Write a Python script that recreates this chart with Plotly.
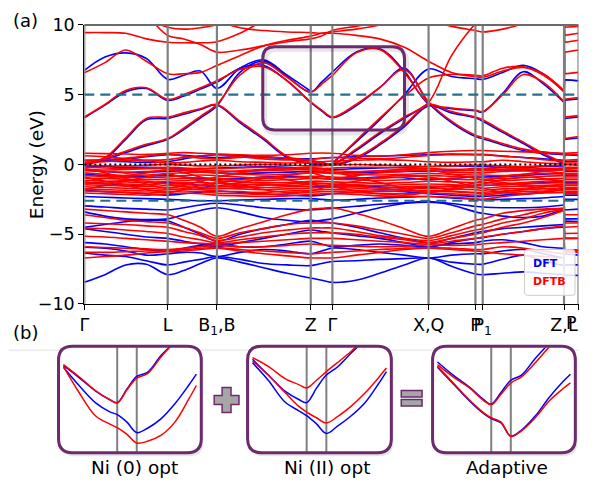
import plotly.graph_objects as go

# ---------------- data ----------------
K = [0, 21, 42, 63, 84.7, 101, 118, 134.7, 158, 182, 206, 230, 241, 252, 276, 300, 325,
     349.7, 373, 397.3, 404.7, 425, 446, 466, 487.3, 488, 502]
TICK_K = [0, 84.7, 134.7, 230, 252, 349.7, 397.3, 404.7, 487.3, 502]
TICK_TEXT = ["Γ", "L", "B<sub>1</sub>,B", "Z", "Γ", "X,Q", "P", "P<sub>1</sub>", "Z,L", ""]
END_LABEL = "P"
Y_TICKS = [-10, -5, 0, 5, 10]
DASH_LEVELS = [5.0, -2.6]
FERMI = 0.0

# DFTB (red) bands
R_UP1 = [9.45, 9.45, 9.4, 9.0, 8.76, 8.72, 8.72, 8.8, 9.4, 10.3, 11, 11, 11, 11, 11, 11, 11, 11, 11, 11, 11, 11, 11, 11, 11, 8.76, 8.9]
R_UP2 = [11, 11, 10.9, 10.4, 9.84, 9.7, 9.8, 10.0, 10.3, 10.6, 10.9, 11, 11, 11, 11, 11, 11, 11, 10.8, 10.3, 10.2, 10.4, 10.8, 11, 11, 9.84, 9.9]
R_UP3 = [11, 11, 11, 10.6, 9.25, 9.0, 8.6, 8.05, 8.2, 8.5, 8.8, 9.0, 9.2, 9.6, 9.9, 10.2, 10.4, 10.3, 9.9, 9.6, 9.5, 9.7, 10.1, 10.6, 11, 9.25, 9.4]
R_UP4 = [11, 11, 11, 11, 11, 11, 10.8, 10.3, 9.8, 9.6, 9.5, 9.45, 9.4, 9.4, 9.25, 9.0, 8.4, 7.4, 6.6, 6.3, 6.25, 6.7, 6.95, 6.5, 5.3, 8.05, 8.2]
R_CB1 = [0.05, 0.45, 0.95, 1.45, 1.86, 2.6, 3.45, 4.3, 6.4, 7.3, 6.25, 5.19, 5.75, 6.38, 8.0, 8.25, 6.6, 4.4, 4.05, 3.9, 3.8, 5.0, 6.45, 5.9, 4.5, 1.86, 2.0]
R_CB2 = [3.4, 4.3, 5.3, 5.5, 4.67, 5.0, 5.5, 6.0, 6.8, 7.0, 6.0, 4.48, 3.9, 3.4, 4.3, 5.5, 6.8, 4.5, 3.1, 2.1, 1.95, 1.5, 1.1, 0.9, 0.75, 4.67, 4.8]
R_CB3 = [0.05, 0.5, 1.9, 3.3, 3.4, 3.7, 4.0, 4.3, 3.1, 1.9, 0.6, 0.1, 0.05, 0.0, 1.1, 2.3, 3.4, 4.45, 7.8, 10.1, 10.6, 11, 11, 11, 11, 3.4, 3.5]
R_CB4 = [6.57, 7.3, 8.2, 7.4, 6.5, 6.5, 6.6, 7.1, 7.8, 8.5, 8.9, 9.2, 9.4, 9.5, 9.7, 10.0, 10.5, 11, 11, 11, 11, 11, 11, 11, 11, 6.5, 6.6]
R_CB6 = [0.3, 0.35, 0.45, 0.6, 0.75, 0.6, 0.45, 0.4, 0.5, 0.55, 0.45, 0.3, 0.15, 0.0, 0.5, 1.5, 2.8, 4.3, 3.8, 3.4, 3.2, 2.4, 1.6, 0.8, 0.1, 0.75, 0.7]
R_X = [None] * 13 + [0.05, 1.7, 3.3, 4.9, 6.2, 6.45, 6.4, 6.35, 6.9, 7.0, 6.4, 5.25] + [None, None]
R_N1 = [0.8, 0.78, 0.75, 0.72, 0.8, 0.85, 0.8, 0.75, 0.7, 0.65, 0.7, 0.8, 0.82, 0.8, 0.65, 0.6, 0.7, 0.85, 0.95, 1.0, 1.0, 0.95, 0.9, 0.85, 0.8, 0.8, 0.85]
R_N2 = [0.62, 0.55, 0.42, 0.32, 0.35, 0.5, 0.62, 0.7, 0.55, 0.4, 0.32, 0.35, 0.45, 0.5, 0.45, 0.4, 0.5, 0.65, 0.7, 0.72, 0.72, 0.6, 0.5, 0.35, 0.25, 0.3, 0.35]
R_N3 = [0.15, 0.2, 0.28, 0.25, 0.1, 0.15, 0.25, 0.3, 0.2, 0.15, 0.1, 0.15, 0.2, 0.25, 0.3, 0.35, 0.3, 0.2, 0.15, 0.2, 0.2, 0.3, 0.2, 0.1, 0.05, 0.1, 0.1]
V1 = [-0.05, -0.1, -0.1, -0.05, 0.0, -0.05, -0.1, -0.1, -0.05, 0.0, -0.05, -0.1, -0.1, -0.05, 0.0, -0.05, -0.1, -0.15, -0.1, -0.05, -0.05, -0.1, -0.15, -0.1, -0.05, 0.0, -0.05]
V2 = [-0.2, -0.25, -0.3, -0.25, -0.2, -0.25, -0.3, -0.3, -0.25, -0.2, -0.25, -0.3, -0.3, -0.25, -0.2, -0.2, -0.25, -0.3, -0.35, -0.3, -0.3, -0.25, -0.3, -0.35, -0.3, -0.2, -0.2]
V3 = [-0.45, -0.5, -0.55, -0.5, -0.4, -0.35, -0.4, -0.45, -0.5, -0.45, -0.4, -0.35, -0.4, -0.45, -0.5, -0.45, -0.4, -0.45, -0.55, -0.6, -0.6, -0.5, -0.45, -0.5, -0.6, -0.4, -0.45]
V4 = [-0.6, -0.7, -0.8, -0.75, -0.65, -0.6, -0.55, -0.6, -0.7, -0.75, -0.7, -0.6, -0.6, -0.65, -0.7, -0.75, -0.7, -0.65, -0.7, -0.75, -0.75, -0.8, -0.7, -0.65, -0.7, -0.65, -0.65]
V5 = [-0.8, -0.85, -0.9, -0.95, -0.9, -0.8, -0.75, -0.8, -0.9, -1.0, -0.95, -0.85, -0.85, -0.9, -0.95, -1.0, -0.9, -0.8, -0.85, -0.9, -0.95, -1.0, -0.95, -0.85, -0.8, -0.9, -0.9]
V6 = [-1.0, -1.0, -1.05, -1.1, -1.05, -1.0, -0.95, -1.0, -1.1, -1.15, -1.1, -1.0, -1.0, -1.05, -1.1, -1.15, -1.1, -1.0, -1.05, -1.1, -1.1, -1.15, -1.1, -1.05, -1.0, -1.05, -1.05]
V7 = [-1.15, -1.2, -1.25, -1.3, -1.2, -1.15, -1.1, -1.15, -1.25, -1.3, -1.3, -1.2, -1.2, -1.25, -1.3, -1.35, -1.3, -1.2, -1.25, -1.3, -1.3, -1.35, -1.3, -1.2, -1.15, -1.2, -1.2]
V8 = [-1.3, -1.35, -1.4, -1.45, -1.35, -1.3, -1.3, -1.35, -1.4, -1.45, -1.5, -1.4, -1.35, -1.4, -1.45, -1.5, -1.45, -1.4, -1.45, -1.5, -1.5, -1.45, -1.4, -1.35, -1.3, -1.35, -1.35]
V9 = [-1.45, -1.5, -1.55, -1.6, -1.5, -1.45, -1.5, -1.55, -1.6, -1.65, -1.6, -1.55, -1.5, -1.5, -1.6, -1.65, -1.6, -1.55, -1.6, -1.65, -1.7, -1.6, -1.55, -1.5, -1.45, -1.5, -1.5]
V10 = [-1.6, -1.65, -1.7, -1.75, -1.65, -1.6, -1.65, -1.7, -1.75, -1.8, -1.75, -1.7, -1.65, -1.65, -1.7, -1.8, -1.75, -1.7, -1.75, -1.8, -1.85, -1.75, -1.7, -1.6, -1.55, -1.65, -1.65]
V11 = [-1.75, -1.8, -1.85, -1.9, -1.8, -1.75, -1.8, -1.9, -1.95, -2.0, -1.9, -1.85, -1.8, -1.8, -1.85, -1.95, -1.9, -1.85, -1.9, -2.0, -2.0, -1.9, -1.8, -1.75, -1.7, -1.8, -1.8]
V12 = [-1.9, -1.95, -2.0, -2.05, -1.95, -1.9, -1.95, -2.05, -2.1, -2.15, -2.1, -2.0, -1.95, -1.95, -2.0, -2.1, -2.1, -2.05, -2.1, -2.2, -2.2, -2.05, -1.95, -1.9, -1.85, -1.95, -1.95]
V13 = [-2.05, -2.1, -2.15, -2.2, -2.1, -2.05, -2.1, -2.2, -2.25, -2.3, -2.25, -2.15, -2.1, -2.1, -2.15, -2.25, -2.3, -2.3, -2.35, -2.45, -2.5, -2.3, -2.15, -2.05, -2.0, -2.1, -2.1]
V14 = [-0.3, -0.6, -1.0, -1.4, -1.7, -1.5, -1.2, -0.9, -0.6, -0.4, -0.3, -0.2, -0.3, -0.5, -0.9, -1.3, -1.7, -2.0, -1.7, -1.3, -1.2, -0.9, -0.7, -0.5, -0.4, -1.7, -1.7]
V15 = [-1.8, -1.5, -1.2, -0.9, -0.7, -0.9, -1.2, -1.5, -1.3, -1.0, -0.8, -0.6, -0.8, -1.0, -0.8, -0.6, -0.5, -0.4, -0.7, -1.0, -1.1, -1.3, -1.5, -1.7, -1.9, -0.7, -0.75]
V16 = [-1.2, -1.0, -0.8, -0.6, -0.4, -0.6, -0.9, -1.2, -1.5, -1.8, -2.0, -1.9, -1.7, -1.5, -1.2, -0.9, -0.8, -0.9, -1.2, -1.6, -1.7, -2.0, -2.1, -2.0, -1.6, -0.4, -0.45]
V17 = [-0.9, -1.2, -1.5, -1.8, -2.0, -1.8, -1.5, -1.3, -1.1, -0.9, -1.1, -1.4, -1.5, -1.6, -1.9, -2.1, -2.2, -2.0, -1.8, -1.5, -1.4, -1.1, -0.9, -1.0, -1.2, -2.0, -2.0]
V18 = [-0.35, -0.4, -0.35, -0.3, -0.3, -0.4, -0.5, -0.55, -0.45, -0.35, -0.3, -0.4, -0.5, -0.6, -0.55, -0.45, -0.35, -0.3, -0.4, -0.45, -0.45, -0.4, -0.35, -0.3, -0.25, -0.3, -0.3]
V19 = [-1.35, -1.25, -1.15, -1.2, -1.4, -1.6, -1.7, -1.75, -1.65, -1.5, -1.4, -1.3, -1.35, -1.4, -1.55, -1.7, -1.85, -1.9, -1.95, -2.05, -2.1, -1.95, -1.8, -1.6, -1.4, -1.4, -1.4]
RL1 = [-3.2, -3.3, -3.4, -3.5, -3.6, -4.0, -4.5, -5.15, -4.6, -4.1, -3.6, -3.2, -3.15, -3.1, -3.5, -4.0, -4.6, -5.15, -4.6, -4.0, -3.9, -3.5, -3.3, -3.2, -3.15, -3.6, -3.6]
RL2 = [-3.6, -3.8, -4.0, -4.1, -4.2, -4.5, -4.9, -5.3, -4.9, -4.6, -4.3, -4.2, -4.2, -4.2, -4.4, -4.7, -5.0, -5.3, -4.9, -4.4, -4.3, -3.9, -3.6, -3.3, -3.15, -4.2, -4.2]
RL3 = [-4.2, -4.25, -4.3, -4.4, -4.5, -4.8, -5.1, -5.45, -5.2, -4.9, -4.7, -4.55, -4.55, -4.55, -4.8, -5.1, -5.3, -5.45, -5.1, -4.7, -4.6, -4.2, -3.9, -3.5, -3.2, -4.5, -4.45]
RL4 = [-4.55, -4.6, -4.7, -4.8, -4.95, -5.2, -5.4, -5.6, -5.4, -5.2, -5.0, -4.9, -4.9, -4.9, -5.0, -5.2, -5.4, -5.6, -5.3, -5.0, -4.9, -4.5, -4.2, -3.8, -3.3, -4.95, -4.93]
RL5 = [-5.15, -5.2, -5.3, -5.4, -5.5, -5.6, -5.65, -5.7, -5.6, -5.5, -5.4, -5.3, -5.3, -5.3, -5.4, -5.5, -5.6, -5.7, -5.5, -5.3, -5.2, -5.0, -4.8, -4.6, -4.4, -5.3, -5.29]
RL6 = [-5.9, -5.95, -6.0, -6.05, -6.1, -6.0, -5.9, -5.8, -5.9, -5.9, -5.8, -5.7, -5.75, -5.8, -5.85, -5.9, -5.85, -5.75, -5.8, -5.75, -5.7, -5.6, -5.5, -5.4, -5.3, -6.1, -6.12]
RL7 = [-6.3, -6.3, -6.25, -6.2, -6.2, -6.1, -6.0, -5.95, -6.1, -6.2, -6.3, -6.4, -6.35, -6.3, -6.2, -6.1, -6.0, -5.95, -6.0, -6.1, -6.1, -5.9, -6.0, -6.2, -6.4, -6.2, -6.2]
RL8 = [-6.7, -6.6, -6.5, -6.35, -6.25, -6.2, -6.1, -6.0, -6.2, -6.4, -6.55, -6.7, -6.7, -6.7, -6.5, -6.3, -6.1, -6.0, -6.1, -6.2, -6.25, -6.4, -6.5, -6.6, -6.7, -6.25, -6.3]

# DFT (blue) bands
B_CB1 = [0.0, 0.35, 0.85, 1.35, 1.8, 2.5, 3.35, 4.2, 6.6, 7.4, 6.3, 5.19, 5.9, 6.62, 8.05, 8.3, 6.7, 4.35, 4.0, 3.85, 3.75, 5.1, 6.65, 5.8, 4.45, 1.8, 1.9]
B_CB2 = [3.35, 4.25, 5.2, 5.45, 4.6, 4.9, 5.4, 5.9, 6.9, 7.1, 6.0, 4.45, 3.85, 3.35, 4.2, 5.5, 6.9, 4.4, 3.0, 2.0, 1.85, 1.4, 1.0, 0.8, 0.7, 4.6, 4.7]
B_CB3 = [0.0, 0.4, 1.8, 3.2, 3.3, 3.6, 3.95, 4.25, 3.0, 1.8, 0.5, 0.05, 0.0, 0.0, 1.0, 2.2, 3.3, 4.35] + [None] * 7 + [3.3, 3.4]
B_CB4 = [6.74, 7.7, 8.0, 7.6, 6.1, 6.4, 6.7, 5.45, 6.9, 7.5, 6.4, 5.25] + [None] * 13 + [6.07, 6.0]
B_CB6 = [0.25, 0.3, 0.4, 0.55, 0.7, 0.65, 0.55, 0.5, 0.55, 0.5, 0.4, 0.25, 0.1, 0.0, 0.4, 1.4, 2.7, 4.2, 3.7, 3.35, 3.1, 2.3, 1.5, 0.7, 0.05, 0.7, 0.65]
B_X = [None] * 13 + [0.1, 1.6, 3.2, 5.0, 6.85, 6.3, 6.15, 6.1, 6.6, 7.1, 6.5, 5.2, 6.07, 6.0]
B_N1 = [0.3, 0.25, 0.2, 0.15, 0.2, 0.4, 0.6, 0.7, 0.65, 0.55, 0.45, 0.4, 0.45, 0.5, 0.55, 0.6, 0.65, 0.7, 0.75, 0.7, 0.7, 0.6, 0.5, 0.4, 0.3, 0.2, 0.25]
BV1 = [-0.1, -0.15, -0.2, -0.2, -0.25, -0.3, -0.3, -0.25, -0.2, -0.15, -0.2, -0.3, -0.3, -0.35, -0.3, -0.25, -0.2, -0.15, -0.1, -0.15, -0.15, -0.2, -0.2, -0.15, -0.1, -0.25, -0.25]
BV2 = [-0.7, -0.8, -0.9, -0.85, -0.8, -0.9, -1.0, -1.05, -1.0, -0.9, -0.85, -0.9, -1.0, -1.05, -1.0, -0.9, -0.95, -1.1, -1.0, -0.9, -0.9, -0.85, -0.8, -0.7, -0.6, -0.8, -0.8]
BV3 = [-1.3, -1.4, -1.5, -1.45, -1.3, -1.35, -1.5, -1.6, -1.5, -1.4, -1.5, -1.6, -1.6, -1.55, -1.5, -1.6, -1.7, -1.65, -1.55, -1.5, -1.5, -1.45, -1.4, -1.3, -1.2, -1.3, -1.3]
BV4 = [-1.85, -1.95, -2.0, -2.1, -2.2, -2.1, -2.0, -1.9, -2.0, -2.1, -2.2, -2.25, -2.2, -2.1, -2.0, -1.9, -1.95, -2.1, -2.2, -2.3, -2.3, -2.2, -2.1, -2.0, -1.8, -2.2, -2.2]
BV5 = [-2.3, -2.35, -2.4, -2.45, -2.5, -2.55, -2.6, -2.6, -2.55, -2.5, -2.45, -2.45, -2.5, -2.55, -2.5, -2.4, -2.35, -2.3, -2.4, -2.5, -2.55, -2.5, -2.45, -2.4, -2.3, -2.5, -2.5]
BV6 = [-0.4, -0.5, -0.6, -0.55, -0.5, -0.45, -0.5, -0.6, -0.65, -0.6, -0.55, -0.5, -0.55, -0.6, -0.6, -0.55, -0.5, -0.5, -0.45, -0.4, -0.4, -0.4, -0.45, -0.4, -0.35, -0.5, -0.5]
BL1 = [-8.45, -7.9, -7.2, -7.15, -7.9, -7.6, -7.1, -6.7, -7.0, -7.4, -7.8, -8.14, -8.3, -8.45, -8.3, -7.8, -7.2, -6.7, -7.3, -7.85, -7.9, -7.8, -7.7, -7.8, -7.9, -7.95, -7.95]
BL2 = [-6.35, -6.5, -6.6, -6.9, -7.2, -7.0, -6.8, -6.6, -6.8, -7.1, -7.2, -7.25, -7.1, -6.95, -6.9, -6.8, -6.75, -6.7, -7.0, -7.15, -7.15, -6.8, -6.5, -6.9, -7.25, -7.2, -7.2]
BL3 = [-5.93, -6.0, -6.2, -6.5, -6.4, -6.3, -6.35, -6.6, -6.3, -6.1, -6.2, -6.4, -6.2, -6.0, -6.1, -6.3, -6.5, -6.7, -6.5, -6.4, -6.4, -6.2, -6.1, -6.4, -6.7, -6.4, -6.5]
BL4 = [-5.6, -5.7, -5.9, -6.1, -6.2, -6.0, -5.8, -5.7, -5.9, -5.9, -5.7, -5.5, -5.7, -5.9, -5.8, -5.7, -5.8, -5.9, -5.7, -5.6, -5.5, -5.4, -5.6, -5.9, -6.0, -6.2, -6.2]
BL5 = [-4.6, -4.8, -5.0, -5.2, -5.3, -5.5, -5.7, -5.9, -5.6, -5.3, -5.0, -4.7, -4.8, -4.9, -5.1, -5.3, -5.6, -5.9, -5.6, -5.3, -5.25, -5.0, -4.8, -4.6, -4.5, -5.3, -5.3]
BL6 = [-4.5, -4.3, -4.1, -4.0, -4.05, -4.5, -5.0, -5.5, -5.0, -4.6, -4.3, -4.0, -4.1, -4.2, -4.5, -4.9, -5.3, -5.6, -5.3, -4.9, -4.8, -4.6, -4.5, -4.4, -4.3, -4.05, -4.1]
BL7 = [-3.4, -3.7, -3.9, -3.95, -3.9, -3.6, -3.3, -3.1, -3.4, -3.8, -4.0, -4.1, -4.0, -3.9, -3.5, -3.1, -2.8, -2.65, -2.9, -3.4, -3.5, -3.7, -3.8, -3.7, -3.2, -3.9, -3.9]
BL8 = [-2.97, -3.05, -3.15, -3.2, -3.26, -3.1, -2.9, -2.78, -2.9, -3.1, -3.2, -3.26, -3.2, -3.15, -3.0, -2.85, -2.75, -2.7, -2.8, -3.0, -3.05, -3.1, -3.1, -3.05, -2.9, -3.26, -3.2]

RED_BANDS = [R_UP1, R_UP2, R_UP3, R_UP4, R_CB1, R_CB2, R_CB3, R_CB4, R_CB6, R_X, R_N1, R_N2, R_N3,
             V1, V2, V3, V4, V5, V6, V7, V8, V9, V10, V11, V12, V13, V14, V15, V16, V17, V18, V19,
             RL1, RL2, RL3, RL4, RL5, RL6, RL7, RL8]
BLUE_BANDS = [B_CB1, B_CB2, B_CB3, B_CB4, B_CB6, B_X, B_N1, BV1, BV2, BV3, BV4, BV5, BV6,
              BL1, BL2, BL3, BL4, BL5, BL6, BL7, BL8]
for _b in RED_BANDS + BLUE_BANDS:
    assert len(_b) == len(K), len(_b)

# inset (b) panels: zoomed bands around Z-Γ
INSET_K = [4, 20, 37, 51, 59, 69, 79, 90, 104, 118, 132, 140]
INSET_VLINES = [59, 79]
NI0_BLUE_UP = [7.45, 6.75, 5.98, 5.5, 5.32, 6.1, 6.82, 7.05, 8.03, 8.8, 9.5, 10.0]
NI0_RED_UP = [7.5, 6.8, 6.0, 5.5, 5.3, 6.05, 6.72, 6.98, 7.95, 8.8, 9.5, 10.0]
NI0_BLUE_LO = [7.35, 6.3, 5.3, 4.8, 4.63, 4.2, 3.6, 3.85, 4.4, 5.25, 6.3, 6.95]
NI0_RED_LO = [7.4, 5.9, 4.55, 4.1, 3.88, 3.5, 3.0, 3.1, 3.45, 4.2, 5.5, 6.3]
NI2_BLUE_UP = [7.8, 6.9, 5.98, 5.5, 5.32, 6.15, 6.9, 7.35, 8.15, 8.9, 9.6, 10.0]
NI2_RED_UP = [7.9, 7.4, 6.7, 6.35, 6.16, 6.6, 7.1, 7.6, 8.25, 9.0, 9.6, 10.0]
NI2_BLUE_LO = [7.6, 6.6, 5.35, 4.85, 4.57, 4.1, 3.55, 3.95, 4.55, 5.3, 6.4, 7.1]
NI2_RED_LO = [7.7, 6.9, 5.9, 5.1, 4.78, 4.45, 4.15, 4.5, 5.1, 5.85, 6.75, 7.3]
AD_BLUE_UP = [7.65, 6.9, 6.2, 5.5, 5.23, 5.9, 6.6, 6.9, 7.85, 8.7, 9.5, 10.0]
AD_RED_UP = [7.5, 6.8, 6.15, 5.45, 5.2, 5.8, 6.44, 6.8, 7.6, 8.5, 9.3, 9.8]
AD_BLUE_LO = [7.35, 6.4, 5.4, 4.7, 4.4, 4.15, 3.4, 3.75, 4.55, 5.6, 6.5, 6.95]
AD_RED_LO = [7.4, 6.45, 5.45, 4.75, 4.45, 4.2, 3.38, 3.7, 4.45, 5.4, 6.1, 6.45]
INSETS = [
    ("Ni (0) opt", [NI0_BLUE_UP, NI0_BLUE_LO], [NI0_RED_UP, NI0_RED_LO]),
    ("Ni (II) opt", [NI2_BLUE_UP, NI2_BLUE_LO], [NI2_RED_UP, NI2_RED_LO]),
    ("Adaptive", [AD_BLUE_UP, AD_BLUE_LO], [AD_RED_UP, AD_RED_LO]),
]

# ---------------- layout helpers ----------------
# The page body keeps an 8 px margin; the captured 595x500 page is squeezed to 595x481
# and appears shifted ~6 px to the left, hence the offsets below.
OFFX, OFFY = 2, 8
W, H = 579, 484
SY = 481 / 500
FONT = "DejaVu Sans"
BLUE, RED = "#0000ff", "#ff0000"
PURPLE = "#6d2a6d"
GRAY = "#808080"
TEAL = "#256f8c"


def px(x):
    return (x - OFFX) / W


def py(y):
    return 1 - (y / SY - OFFY) / H


def rrect(x0, y0, x1, y1, r):
    return (f"M {px(x0 + r)},{py(y0)} L {px(x1 - r)},{py(y0)} Q {px(x1)},{py(y0)} {px(x1)},{py(y0 + r)} "
            f"L {px(x1)},{py(y1 - r)} Q {px(x1)},{py(y1)} {px(x1 - r)},{py(y1)} "
            f"L {px(x0 + r)},{py(y1)} Q {px(x0)},{py(y1)} {px(x0)},{py(y1 - r)} "
            f"L {px(x0)},{py(y0 + r)} Q {px(x0)},{py(y0)} {px(x0 + r)},{py(y0)} Z")


def build(bands):
    xs, ys, tx, ty = [], [], [], []
    for b in bands:
        xs += K[:25] + [None]
        ys += b[:25] + [None]
        tx += K[24:] + [None]
        ty += b[24:] + [None]
    return xs, ys, tx, ty


fig = go.Figure()
for bands, col in ((BLUE_BANDS, BLUE), (RED_BANDS, RED)):
    xs, ys, tx, ty = build(bands)
    fig.add_trace(go.Scatter(x=xs, y=ys, mode="lines", line=dict(color=col, width=1.6, shape="spline"),
                             hoverinfo="skip", showlegend=False))
    fig.add_trace(go.Scatter(x=tx, y=ty, mode="lines", line=dict(color=col, width=1.6),
                             hoverinfo="skip", showlegend=False))

BOX_X = [(56, 200), (246.7, 391.7), (433.3, 577.3)]
BOX_Y = (345, 452)
for i, (label, blues, reds) in enumerate(INSETS):
    ax = i + 2
    for bands, col in ((blues, BLUE), (reds, RED)):
        for b in bands:
            fig.add_trace(go.Scatter(x=INSET_K, y=b, mode="lines", line=dict(color=col, width=1.5, shape="spline"),
                                     xaxis=f"x{ax}", yaxis=f"y{ax}", hoverinfo="skip", showlegend=False))

PLOT_L, PLOT_R, PLOT_T, PLOT_B = 82, 580.5, 22.7, 302.7

shapes = []
shapes.append(dict(type="line", xref="paper", yref="paper", x0=px(6), x1=px(595), y0=py(349), y1=py(349),
                   line=dict(color="#e0e0e0", width=1), layer="below"))
for k in TICK_K:
    shapes.append(dict(type="line", xref="x", yref="y domain", x0=k, x1=k, y0=0, y1=1,
                       line=dict(color=GRAY, width=2.2), layer="above"))
shapes.append(dict(type="line", xref="x domain", yref="y domain", x0=0, x1=1, y0=1, y1=1,
                   line=dict(color="#6a6a6a", width=2), layer="above"))
for lv in DASH_LEVELS:
    shapes.append(dict(type="line", xref="x", yref="y", x0=K[0], x1=K[-1], y0=lv, y1=lv,
                       line=dict(color=TEAL, width=2.2, dash="10px,6px"), layer="above"))
shapes.append(dict(type="line", xref="x", yref="y", x0=K[0], x1=K[-1], y0=FERMI, y1=FERMI,
                   line=dict(color="black", width=2, dash="2px,3px"), layer="above"))
shapes.append(dict(type="path", xref="paper", yref="paper", path=rrect(264, 47, 407, 131, 12),
                   line=dict(color="rgba(0,0,0,0.10)", width=5), layer="above"))
shapes.append(dict(type="path", xref="paper", yref="paper", path=rrect(262, 44.5, 405, 128, 12),
                   line=dict(color=PURPLE, width=3), layer="above"))
shapes.append(dict(type="path", xref="paper", yref="paper", path=rrect(526, 248, 577, 294, 3),
                   fillcolor="rgba(255,255,255,0.85)", line=dict(color="#cccccc", width=1), layer="above"))
for (x0, x1) in BOX_X:
    shapes.append(dict(type="path", xref="paper", yref="paper", path=rrect(x0 + 1.5, BOX_Y[0] + 2.5, x1 + 2, BOX_Y[1] + 3.5, 14),
                       fillcolor="rgba(0,0,0,0.10)", line=dict(width=0), layer="below"))
    shapes.append(dict(type="path", xref="paper", yref="paper", path=rrect(x0, BOX_Y[0], x1, BOX_Y[1], 14),
                       fillcolor="white", line=dict(width=0), layer="below"))
for i in range(3):
    ax = i + 2
    for v in INSET_VLINES:
        shapes.append(dict(type="line", xref=f"x{ax}", yref=f"y{ax} domain", x0=v, x1=v, y0=0.0, y1=1.0,
                           line=dict(color=GRAY, width=2), layer="below"))
for (x0, x1) in BOX_X:
    shapes.append(dict(type="path", xref="paper", yref="paper", path=rrect(x0, BOX_Y[0], x1, BOX_Y[1], 14),
                       line=dict(color=PURPLE, width=3), layer="above"))
cx, cy, s, t = 225.5, 399, 12.5, 4.5
plus = (f"M {px(cx - t)},{py(cy - s)} L {px(cx + t)},{py(cy - s)} L {px(cx + t)},{py(cy - t)} "
        f"L {px(cx + s)},{py(cy - t)} L {px(cx + s)},{py(cy + t)} L {px(cx + t)},{py(cy + t)} "
        f"L {px(cx + t)},{py(cy + s)} L {px(cx - t)},{py(cy + s)} L {px(cx - t)},{py(cy + t)} "
        f"L {px(cx - s)},{py(cy + t)} L {px(cx - s)},{py(cy - t)} L {px(cx - t)},{py(cy - t)} Z")
shapes.append(dict(type="path", xref="paper", yref="paper", path=plus, fillcolor="#a6a6a6",
                   line=dict(color=PURPLE, width=1.5), layer="above"))
for (y0, y1) in ((389.5, 396), (398.5, 405)):
    shapes.append(dict(type="rect", xref="paper", yref="paper", x0=px(401.7), x1=px(422.7), y0=py(y1), y1=py(y0),
                       fillcolor="#a6a6a6", line=dict(color=PURPLE, width=1.5), layer="above"))


def note(text, x, y, size, color="black", xanchor="center", angle=0):
    return dict(text=text, x=px(x), y=py(y), xref="paper", yref="paper", showarrow=False,
                xanchor=xanchor, yanchor="middle", textangle=angle,
                font=dict(family=FONT, size=size, color=color))


annotations = [
    note("(a)", 23, 18, 18),
    note("(b)", 23, 331, 18),
    note("Energy (eV)", 34, 162.7, 18.5, angle=-90),
    note("<b>DFT</b>", 533, 262.5, 11, BLUE, "left"),
    note("<b>DFTB</b>", 533, 280.5, 11, RED, "left"),
    note(END_LABEL, 581.5, 321.5, 17.5, xanchor="right"),
]
LABEL_X = [133, 326.5, 508.5]
for (label, _, _), lx in zip(INSETS, LABEL_X):
    annotations.append(note(label, lx, 467, 18.5))

layout = dict(
    width=W, height=H, margin=dict(l=0, r=0, t=0, b=0, pad=0), autosize=False,
    paper_bgcolor="white", plot_bgcolor="rgba(0,0,0,0)",
    font=dict(family=FONT, color="black"),
    xaxis=dict(domain=[px(PLOT_L), px(PLOT_R)], range=[K[0], K[-1]], tickvals=TICK_K, ticktext=TICK_TEXT,
               tickangle=0, ticks="outside", ticklen=5, tickwidth=1.2, tickcolor="black", showline=True,
               linecolor="black", linewidth=1.3, showgrid=False, zeroline=False,
               tickfont=dict(family=FONT, size=17.5), anchor="y", fixedrange=True),
    yaxis=dict(domain=[py(PLOT_B), py(PLOT_T)], range=[-10, 10], tickvals=Y_TICKS,
               ticks="outside", ticklen=5, tickwidth=1.2, tickcolor="black", showline=True, linecolor="black",
               linewidth=1.3, showgrid=False, zeroline=False, tickfont=dict(family=FONT, size=17.5),
               anchor="x", fixedrange=True),
    shapes=shapes, annotations=annotations, showlegend=False,
)
for i, (x0, x1) in enumerate(BOX_X):
    ax = i + 2
    layout[f"xaxis{ax}"] = dict(domain=[px(x0 + 1), px(x1 - 1)], range=[0, 144], visible=False,
                                anchor=f"y{ax}", fixedrange=True)
    layout[f"yaxis{ax}"] = dict(domain=[py(BOX_Y[1] - 1), py(BOX_Y[0] + 1)], range=[2.5, 8.5], visible=False,
                                anchor=f"x{ax}", fixedrange=True)
fig.update_layout(**layout)
fig.write_html("out.html", config={"displayModeBar": False})
